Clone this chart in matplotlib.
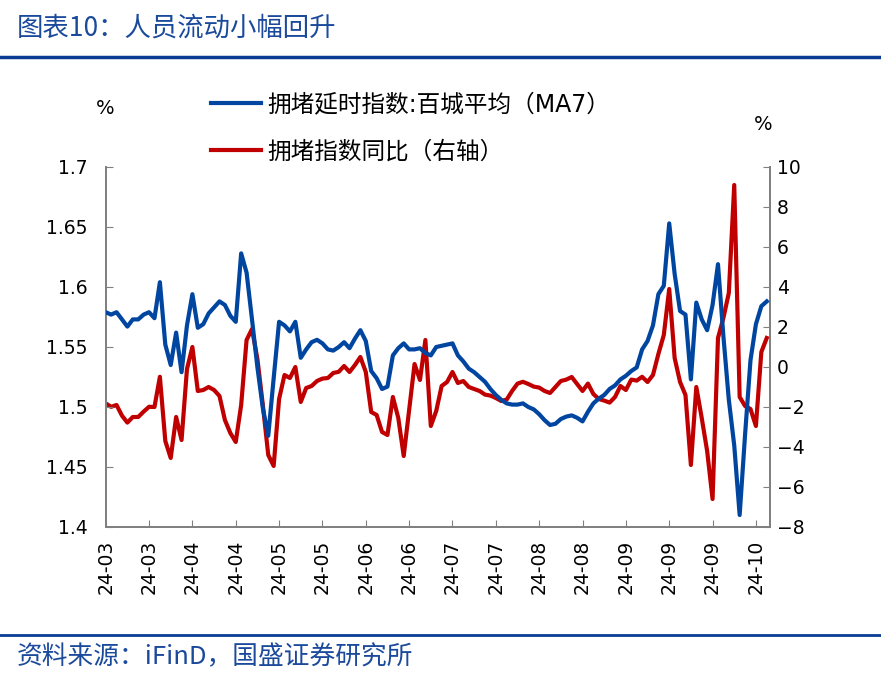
import matplotlib
matplotlib.use('Agg')
import matplotlib.pyplot as plt
from matplotlib.lines import Line2D
import numpy as np

plt.rcParams['font.family'] = ['DejaVu Sans', 'Noto Sans CJK SC']

# 拥堵延时指数:百城平均（MA7），左轴
blue = [
    1.579, 1.577, 1.579, 1.573, 1.567, 1.573, 1.573, 1.577, 1.579, 1.574,
    1.604, 1.552, 1.535, 1.562, 1.529, 1.568, 1.594, 1.566, 1.569, 1.578,
    1.583, 1.588, 1.585, 1.576, 1.571, 1.628, 1.612, 1.573, 1.533, 1.499,
    1.476, 1.524, 1.571, 1.568, 1.563, 1.571, 1.541, 1.548, 1.554, 1.556,
    1.553, 1.548, 1.547, 1.550, 1.554, 1.549, 1.557, 1.564, 1.555, 1.530,
    1.524, 1.515, 1.517, 1.543, 1.549, 1.553, 1.548, 1.548, 1.549, 1.545,
    1.543, 1.550, 1.551, 1.552, 1.553, 1.543, 1.538, 1.532, 1.529, 1.525,
    1.521, 1.515, 1.510, 1.506, 1.503, 1.502, 1.502, 1.503, 1.500, 1.498,
    1.494, 1.489, 1.485, 1.486, 1.490, 1.492, 1.493, 1.491, 1.488, 1.496,
    1.503, 1.507, 1.510, 1.515, 1.518, 1.523, 1.526, 1.530, 1.533, 1.548,
    1.555, 1.568, 1.594, 1.601, 1.653, 1.611, 1.580, 1.577, 1.523, 1.587,
    1.573, 1.564, 1.585, 1.619, 1.559, 1.506, 1.468, 1.410, 1.477, 1.539,
    1.569, 1.584, 1.588,
]

# 拥堵指数同比（右轴），%
red = [
    -1.82, -1.99, -1.90, -2.43, -2.78, -2.50, -2.50, -2.23, -1.99, -2.00,
    -0.49, -3.70, -4.55, -2.50, -3.65, -0.10, 1.00, -1.20, -1.15, -1.00,
    -1.15, -1.45, -2.65, -3.30, -3.75, -1.90, 1.35, 1.90, 0.40, -1.90,
    -4.40, -4.95, -1.60, -0.40, -0.55, 0.00, -1.75, -1.05, -0.95, -0.70,
    -0.58, -0.55, -0.30, -0.24, 0.05, -0.25, 0.10, 0.50, -0.25, -2.25,
    -2.40, -3.25, -3.40, -1.50, -2.55, -4.45, -2.15, 0.15, -0.65, 1.35,
    -2.95, -2.20, -0.95, -0.75, -0.25, -0.80, -0.70, -1.00, -1.10, -1.20,
    -1.38, -1.43, -1.55, -1.70, -1.63, -1.20, -0.83, -0.74, -0.85, -0.98,
    -1.03, -1.20, -1.30, -1.00, -0.70, -0.63, -0.50, -0.85, -1.20, -0.83,
    -1.35, -1.60, -1.68, -1.78, -1.50, -0.95, -1.15, -0.63, -0.68, -0.49,
    -0.75, -0.40, 0.65, 1.60, 3.90, 0.45, -0.75, -1.40, -4.90, -1.00,
    -2.55, -4.20, -6.60, 1.45, 2.45, 3.70, 9.10, -1.50, -1.95, -2.10,
    -2.95, 0.75, 1.45,
]

tick_labels = ['24-03', '24-03', '24-04', '24-04', '24-05', '24-05', '24-06', '24-06',
               '24-07', '24-07', '24-08', '24-08', '24-09', '24-09', '24-09', '24-10']
tick_step = 8

left_ticks = [1.4, 1.45, 1.5, 1.55, 1.6, 1.65, 1.7]
right_ticks = [-8, -6, -4, -2, 0, 2, 4, 6, 8, 10]

c_blue = '#0046A0'
c_red = '#C00000'
c_spine = '#808080'
c_title = '#1B4A9C'

fig = plt.figure(figsize=(8.81, 6.92), dpi=100)
ax = fig.add_axes([105.7 / 881, 1 - 527 / 692, (770 - 105.7) / 881, 360 / 692])
ax2 = ax.twinx()

x = np.arange(len(blue))
l1, = ax.plot(x, blue, color=c_blue, lw=3, solid_joinstyle='round', zorder=3)
l2, = ax2.plot(x, red, color=c_red, lw=3, solid_joinstyle='round', zorder=2)
ax.set_zorder(ax2.get_zorder() + 1)
ax.patch.set_visible(False)

ax.set_xlim(0, 122.6)
ax.set_ylim(1.4, 1.7)
ax2.set_ylim(-8, 10)

ax.set_yticks(left_ticks)
ax.set_yticklabels(['1.4', '1.45', '1.5', '1.55', '1.6', '1.65', '1.7'])
ax2.set_yticks(right_ticks)
ax.set_xticks(np.arange(len(tick_labels)) * tick_step)
ax.set_xticklabels(tick_labels, rotation=90)

for a in (ax, ax2):
    for s in a.spines.values():
        s.set_color(c_spine)
        s.set_linewidth(1.3)
    a.spines['top'].set_visible(False)
ax.tick_params(axis='y', direction='in', length=5, color=c_spine, labelsize=13.5, pad=13)
ax.tick_params(axis='x', direction='in', length=5, color=c_spine, labelsize=13.5, pad=9)
ax2.tick_params(axis='y', direction='in', length=5, color=c_spine, labelsize=13.5, pad=5)

fig.text(105 / 881, 1 - 108 / 692, '%', fontsize=14, ha='center', va='center')
fig.text(763 / 881, 1 - 125 / 692, '%', fontsize=14, ha='center', va='center')

fig.legend([l1, l2], ['拥堵延时指数:百城平均（MA7）', '拥堵指数同比（右轴）'],
           loc='upper left', bbox_to_anchor=(211 / 881, 1 - 92 / 692),
           frameon=False, fontsize=17, handlelength=2.1, handletextpad=0.3,
           labelspacing=1.0, borderpad=0, borderaxespad=0)

# 标题和页脚
fig.text(17 / 881, 1 - 28 / 692, '图表10：人员流动小幅回升', fontsize=19,
         color=c_title, style='italic', va='center', ha='left',
         family=['Noto Sans CJK SC', 'DejaVu Sans'])
fig.add_artist(Line2D([0, 1], [1 - 56.5 / 692] * 2, transform=fig.transFigure,
                      color='#0B3C93', lw=2.5))
fig.add_artist(Line2D([0, 1], [1 - 635 / 692] * 2, transform=fig.transFigure,
                      color='#0B3C93', lw=2))
fig.text(17 / 881, 1 - 657 / 692, '资料来源：iFinD，国盛证券研究所', fontsize=18.5,
         color=c_title, style='italic', va='center', ha='left',
         family=['Noto Sans CJK SC', 'DejaVu Sans'])

fig.savefig('out.png', dpi=100)
